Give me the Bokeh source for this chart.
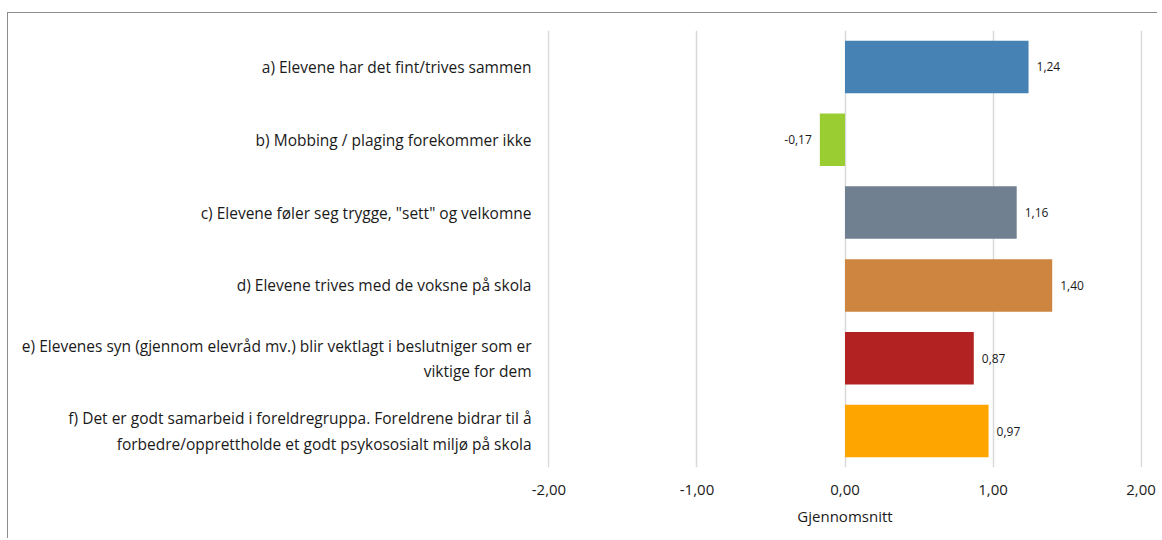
from bokeh.plotting import figure
from bokeh.models import ColumnDataSource, FixedTicker, FactorRange, Range1d
from bokeh.core.properties import value
from bokeh.embed import file_html
from bokeh.resources import INLINE

categories = [
    "a) Elevene har det fint/trives sammen",
    "b) Mobbing / plaging forekommer ikke",
    "c) Elevene føler seg trygge, \"sett\" og velkomne",
    "d) Elevene trives med de voksne på skola",
    "e) Elevenes syn (gjennom elevråd mv.) blir vektlagt i beslutniger som er\nviktige for dem",
    "f) Det er godt samarbeid i foreldregruppa. Foreldrene bidrar til å\nforbedre/opprettholde et godt psykososialt miljø på skola",
]
values = [1.24, -0.17, 1.16, 1.40, 0.87, 0.97]
colors = ["#4682B4", "#9ACD32", "#708090", "#CD853F", "#B22222", "#FFA500"]
x_ticks = [-2, -1, 0, 1, 2]
x_tick_labels = ["-2,00", "-1,00", "0,00", "1,00", "2,00"]
axis_title = "Gjennomsnitt"

labels = [f"{v:.2f}".replace(".", ",") for v in values]
aligns = ["left" if v >= 0 else "right" for v in values]
offsets = [8 if v >= 0 else -8 for v in values]

src = ColumnDataSource(dict(cat=categories, val=values, color=colors,
                            lab=labels, align=aligns, off=offsets))

FONT = "Open Sans"
TEXT_COLOR = "#1a1a1a"

p = figure(width=1150, height=526, output_backend="svg", toolbar_location=None,
           y_range=FactorRange(factors=list(reversed(categories))),
           x_range=Range1d(-2.01, 2.01),
           min_border_left=539, min_border_right=16,
           min_border_top=17, min_border_bottom=72)
p.margin = (12, 0, 0, 7)
p.styles = {"border-left": "1px solid #8c8c8c", "border-top": "1px solid #8c8c8c"}
p.outline_line_color = None
p.background_fill_color = "white"
p.border_fill_color = "white"

p.hbar(y="cat", left=0, right="val", height=0.72, fill_color="color",
       line_color=None, source=src)
p.text(x="val", y="cat", text="lab", text_align="align", x_offset="off",
       text_baseline="middle", text_font=value(FONT), text_font_size="12px",
       text_color=TEXT_COLOR, source=src)

p.ygrid.grid_line_color = None
p.xgrid.ticker = FixedTicker(ticks=x_ticks)
p.xgrid.grid_line_color = "#d9d9d9"
p.xgrid.grid_line_width = 1.5

xa = p.xaxis[0]
xa.ticker = FixedTicker(ticks=x_ticks)
xa.major_label_overrides = {float(t): l for t, l in zip(x_ticks, x_tick_labels)}
xa.axis_line_color = None
xa.major_tick_line_color = None
xa.minor_tick_line_color = None
xa.major_tick_out = 0
xa.major_label_standoff = 17
xa.major_label_text_font = FONT
xa.major_label_text_font_size = "15px"
xa.major_label_text_color = TEXT_COLOR
xa.axis_label = axis_title
xa.axis_label_text_font = FONT
xa.axis_label_text_font_size = "15px"
xa.axis_label_text_font_style = "normal"
xa.axis_label_text_color = TEXT_COLOR
xa.axis_label_standoff = 8

ya = p.yaxis[0]
ya.axis_line_color = None
ya.major_tick_line_color = None
ya.minor_tick_line_color = None
ya.major_tick_out = 0
ya.major_label_standoff = 16
ya.major_label_text_font = FONT
ya.major_label_text_font_size = "15.5px"
ya.major_label_text_color = TEXT_COLOR
ya.major_label_text_line_height = 1.15

open("out.html", "w").write(file_html(p, INLINE))
